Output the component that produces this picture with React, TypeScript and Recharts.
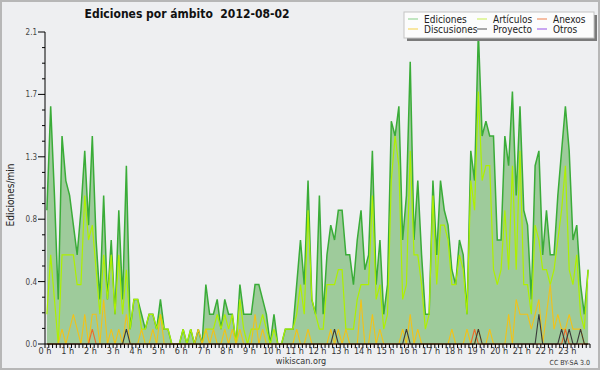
import React from 'react';
import { ComposedChart, Area, Line, XAxis, YAxis, CartesianGrid } from 'recharts';

// 10-minute buckets, edits per minute
const ediciones = [
  0.9, 1.6, 1.0, 0.3, 1.4, 1.1, 1.0, 0.8, 0.6, 0.9, 1.3, 0.8,
  1.4, 0.7, 0.3, 1.0, 0.3, 0.7, 0.2, 0.9, 0.3, 1.2, 0.1, 0.3,
  0.3, 0.2, 0.1, 0.2, 0.2, 0.1, 0.3, 0.1, 0.1, 0, 0, 0,
  0.1, 0, 0.1, 0, 0.1, 0, 0.4, 0.2, 0.2, 0.3, 0.1, 0.3,
  0.2, 0.2, 0, 0.4, 0.2, 0.2, 0.2, 0.4, 0.4, 0.3, 0.2, 0,
  0.2, 0, 0, 0.1, 0.1, 0.1, 0.4, 0.7, 0.4, 1.1, 0.3, 0.2,
  1.0, 0.2, 0.6, 0.8, 0.7, 0.9, 0.9, 0.6, 0.6, 0.4, 0.7, 0.9,
  0.5, 0.6, 1.3, 0.4, 0.7, 0.2, 0.4, 1.5, 1.4, 1.6, 0.7, 1.0,
  1.9, 0.7, 1.1, 0.6, 0.2, 0.2, 1.1, 0.6, 1.1, 0.9, 0.8, 0.5,
  0.4, 0.7, 0.6, 0.2, 1.3, 1.1, 2.1, 1.4, 1.5, 1.4, 1.4, 0.7,
  0.7, 1.4, 1.2, 1.7, 1.0, 1.6, 0.9, 0.8, 0.3, 1.2, 1.3, 0.6,
  0.9, 0.6, 0.6, 1.0, 1.3, 1.6, 1.3, 0.7, 0.8, 0.4, 0.2, 0.5,
];

const articulos = [
  0.2, 0.6, 0.3, 0, 0.6, 0.6, 0.6, 0.6, 0.4, 0.4, 1.0, 0.7,
  0.8, 0.5, 0.2, 0.6, 0.3, 0.6, 0.2, 0.6, 0.2, 0.5, 0.1, 0.3,
  0.3, 0.1, 0.1, 0.2, 0.2, 0.1, 0.2, 0.1, 0.1, 0, 0, 0,
  0.1, 0, 0.1, 0, 0, 0, 0.1, 0.1, 0.1, 0.2, 0.1, 0.2,
  0.1, 0.2, 0, 0.3, 0.1, 0, 0.1, 0.1, 0.1, 0.2, 0.1, 0,
  0.1, 0, 0, 0.1, 0.1, 0.1, 0.2, 0.4, 0.2, 0.9, 0.3, 0.2,
  0.1, 0.1, 0.4, 0.4, 0.4, 0.5, 0.5, 0.1, 0.1, 0.1, 0.3, 0.4,
  0.4, 0.4, 1.0, 0.3, 0.4, 0.1, 0.2, 1.1, 1.4, 1.2, 0.3, 0.4,
  1.3, 0.6, 0.6, 0.4, 0.1, 0.2, 1.0, 0.4, 0.8, 0.8, 0.7, 0.4,
  0.4, 0.6, 0.5, 0.2, 1.1, 0.9, 1.7, 1.1, 1.2, 1.2, 0.5, 0.4,
  0.5, 0.9, 0.5, 1.2, 0.5, 1.3, 0.4, 0.4, 0.2, 0.8, 0.7, 0.5,
  0.5, 0.4, 0.5, 0.7, 0.9, 1.2, 0.5, 0.4, 0.6, 0.2, 0.1, 0.5,
];

const discusiones = [
  0, 0, 0, 0, 0.1, 0, 0.1, 0.2, 0.1, 0, 0.2, 0,
  0.2, 0.2, 0, 0.3, 0, 0.1, 0, 0.1, 0, 0.2, 0, 0,
  0, 0.1, 0, 0, 0.1, 0, 0.2, 0, 0, 0, 0, 0,
  0, 0, 0, 0, 0.1, 0, 0.1, 0, 0.1, 0, 0, 0.1,
  0, 0.1, 0, 0.1, 0, 0, 0, 0.2, 0, 0.1, 0, 0,
  0, 0, 0, 0, 0, 0, 0.1, 0, 0, 0.1, 0, 0,
  0, 0, 0, 0.1, 0, 0.1, 0, 0.1, 0, 0, 0, 0.3,
  0, 0, 0.2, 0, 0.1, 0, 0, 0, 0, 0, 0.1, 0,
  0.2, 0, 0.1, 0, 0, 0, 0, 0, 0, 0, 0, 0.1,
  0, 0, 0, 0.1, 0, 0, 0.1, 0, 0, 0.1, 0, 0,
  0, 0, 0.2, 0, 0.3, 0.2, 0.2, 0.2, 0.1, 0.2, 0.3, 0,
  0.2, 0.4, 0.1, 0.2, 0.1, 0.1, 0.2, 0.1, 0.1, 0.1, 0, 0,
];

const anexos = [
  0, 0, 0, 0, 0, 0, 0, 0, 0, 0, 0, 0,
  0.1, 0, 0, 0, 0, 0, 0, 0, 0, 0, 0, 0,
  0, 0, 0, 0, 0, 0, 0, 0, 0, 0, 0, 0,
  0, 0, 0, 0, 0, 0, 0, 0, 0, 0, 0, 0,
  0, 0, 0, 0, 0, 0, 0, 0, 0, 0, 0, 0,
  0, 0, 0, 0, 0, 0, 0, 0, 0, 0, 0, 0,
  0, 0, 0, 0, 0, 0, 0, 0, 0, 0, 0, 0,
  0, 0, 0, 0, 0, 0, 0, 0, 0, 0, 0, 0,
  0, 0, 0, 0, 0, 0, 0, 0, 0, 0, 0, 0,
  0, 0, 0, 0, 0, 0.1, 0, 0, 0, 0, 0, 0,
  0, 0, 0, 0, 0, 0, 0, 0, 0, 0, 0, 0,
  0, 0, 0, 0, 0, 0.1, 0, 0, 0, 0, 0, 0,
];

const proyecto = [
  0, 0, 0, 0, 0, 0, 0, 0, 0, 0, 0, 0,
  0, 0, 0, 0, 0, 0, 0, 0, 0, 0.1, 0, 0,
  0, 0, 0, 0, 0, 0, 0, 0, 0, 0, 0, 0,
  0, 0, 0, 0, 0, 0, 0, 0, 0, 0, 0, 0,
  0, 0, 0, 0, 0, 0, 0, 0, 0, 0, 0, 0,
  0, 0, 0, 0, 0, 0, 0, 0, 0, 0, 0, 0,
  0, 0, 0, 0, 0.1, 0, 0, 0, 0, 0, 0, 0,
  0, 0, 0, 0, 0, 0, 0, 0, 0, 0, 0, 0.1,
  0, 0, 0, 0, 0, 0, 0, 0, 0, 0, 0, 0,
  0, 0, 0, 0, 0, 0, 0.1, 0, 0, 0, 0, 0,
  0, 0, 0, 0, 0, 0, 0, 0, 0, 0, 0.2, 0,
  0, 0, 0, 0, 0.1, 0, 0.1, 0, 0, 0.1, 0, 0,
];

const hourLabels = [
  '0 h', '1 h', '2 h', '3 h', '4 h', '5 h', '6 h', '7 h', '8 h', '9 h', '10 h', '11 h',
  '12 h', '13 h', '14 h', '15 h', '16 h', '17 h', '18 h', '19 h', '20 h', '21 h', '22 h', '23 h',
];
const yMajor = [0, 0.42, 0.84, 1.26, 1.68, 2.1];
const yLabels = ['0.0', '0.4', '0.8', '1.3', '1.7', '2.1'];

const data = ediciones.map((v, i) => ({
  t: i + 0.5,
  ediciones: v,
  articulos: articulos[i],
  discusiones: discusiones[i],
  anexos: anexos[i],
  proyecto: proyecto[i],
}));

const xTicks = Array.from({ length: 145 }, (_, i) => i);
const yTicks = Array.from({ length: 21 }, (_, i) => Math.round(i * 105) / 1000);

const FONT = '"DejaVu Sans Condensed", "DejaVu Sans", sans-serif';

const C = {
  fill: '#9ecb9b',
  green: '#3aac38',
  lime: '#aef000',
  yellow: '#f2c218',
  orange: '#ee6a2a',
  dark: '#3a3a3a',
  purple: '#9650e6',
};

function XTick(props: any) {
  const { x, y, payload } = props;
  const v = Math.round(payload.value);
  if (v % 6 !== 0 || v / 6 >= hourLabels.length) return <g />;
  return (
    <text x={x} y={y} dy={6} textAnchor="middle" fontSize={9} fill="#333" fontFamily={FONT}>
      {hourLabels[v / 6]}
    </text>
  );
}

function YTick(props: any) {
  const { x, y, payload } = props;
  const idx = Math.round(payload.value / 0.105);
  if (idx % 4 !== 0) return <g />;
  return (
    <g>
      <line x1={x} x2={x - 4} y1={y} y2={y} stroke="#000" />
      <text x={x - 5} y={y} dy={3} textAnchor="end" fontSize={8} fill="#444" fontFamily={FONT}>
        {yLabels[idx / 4]}
      </text>
    </g>
  );
}

const legendItems = [
  { name: 'Ediciones', color: '#86cf86', col: 0, row: 0 },
  { name: 'Artículos', color: '#c8ef50', col: 1, row: 0 },
  { name: 'Anexos', color: '#f0804c', col: 2, row: 0 },
  { name: 'Discusiones', color: '#f4d148', col: 0, row: 1 },
  { name: 'Proyecto', color: '#555555', col: 1, row: 1 },
  { name: 'Otros', color: '#9650e6', col: 2, row: 1 },
];
const legendCols = [408, 477, 537];

export default function App() {
  return (
    <div style={{ position: 'absolute', left: 0, top: 0, width: 600, height: 370, background: '#eeeff1', overflow: 'hidden' }}>
      <ComposedChart width={600} height={370} data={data} margin={{ top: 32, right: 10, left: 0, bottom: 0 }}>
        <CartesianGrid
          vertical={false}
          stroke="#c8c8c8"
          horizontalCoordinatesGenerator={(args: any) =>
            args && args.yAxis && typeof args.yAxis.scale === 'function' ? yMajor.map((v) => args.yAxis.scale(v)) : []
          }
        />
        <Area type="linear" dataKey="ediciones" stroke={C.green} strokeWidth={1.5} fill={C.fill} fillOpacity={1} dot={false} activeDot={false} isAnimationActive={false} />
        <Line type="linear" dataKey="articulos" stroke={C.lime} strokeWidth={1.2} dot={false} activeDot={false} isAnimationActive={false} />
        <Line type="linear" dataKey="discusiones" stroke={C.yellow} strokeWidth={1.1} dot={false} activeDot={false} isAnimationActive={false} />
        <Line type="linear" dataKey="anexos" stroke={C.orange} strokeWidth={1.1} dot={false} activeDot={false} isAnimationActive={false} />
        <Line type="linear" dataKey="proyecto" stroke={C.dark} strokeWidth={1.1} dot={false} activeDot={false} isAnimationActive={false} />
        <XAxis
          dataKey="t"
          type="number"
          domain={[0, 144]}
          ticks={xTicks}
          interval={0}
          tick={<XTick />}
          tickSize={4}
          tickMargin={0}
          height={26}
          stroke="#000"
          tickLine={{ stroke: '#000' }}
        />
        <YAxis
          type="number"
          domain={[0, 2.1]}
          ticks={yTicks}
          interval={0}
          tick={<YTick />}
          tickSize={3}
          tickMargin={0}
          width={45}
          stroke="#000"
          tickLine={{ stroke: '#000' }}
        />
      </ComposedChart>
      <svg width={600} height={370} style={{ position: 'absolute', left: 0, top: 0, pointerEvents: 'none' }} fontFamily={FONT}>
        <text x={187} y={18} textAnchor="middle" fontWeight="bold" fontSize={12} fill="#111" style={{ whiteSpace: 'pre' }}>
          {'Ediciones por ámbito  2012-08-02'}
        </text>
        <text transform="translate(14,195) rotate(-90)" textAnchor="middle" fontSize={10} fill="#222">
          Ediciones/min
        </text>
        <text x={301} y={364} textAnchor="middle" fontSize={9} fill="#333">wikiscan.org</text>
        <text x={590} y={365} textAnchor="end" fontSize={7} fill="#333">CC BY-SA 3.0</text>
        <rect x={407} y={15} width={190} height={26} fill="#7a7a7a" />
        <rect x={404} y={12} width={190} height={26} fill="#fcfcfc" stroke="#c4c4c4" />
        {legendItems.map((it) => {
          const x0 = legendCols[it.col];
          const yc = it.row === 0 ? 19 : 29;
          return (
            <g key={it.name}>
              <line x1={x0} x2={x0 + 10} y1={yc} y2={yc} stroke={it.color} strokeWidth={1} />
              <text x={x0 + 16} y={yc + 3.5} fontSize={10} fill="#222">{it.name}</text>
            </g>
          );
        })}
      </svg>
      <div style={{ position: 'absolute', left: 0, top: 0, width: 600, height: 370, boxSizing: 'border-box', border: '2px solid #b7b7b7', pointerEvents: 'none' }} />
    </div>
  );
}
